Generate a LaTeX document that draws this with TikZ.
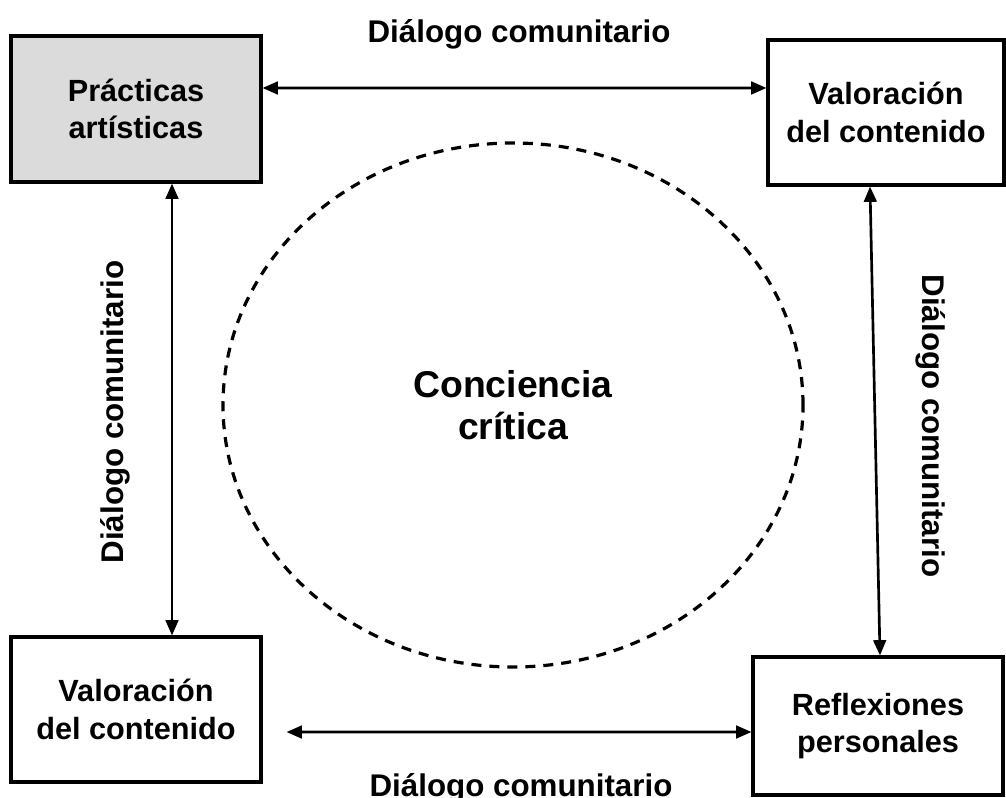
\documentclass[tikz,border=0pt]{standalone}
\usepackage{fontspec}
\setmainfont{Liberation Sans}
\usetikzlibrary{positioning, arrows.meta, shapes.geometric}

\begin{document}
\begin{tikzpicture}[
    x=0.75pt, y=-0.75pt,
    box/.style={draw, line width=2.3pt, align=center, font=\fontsize{23}{28}\selectfont\bfseries},
    gray-box/.style={box, fill=black!14},
    dlg-arr/.style={{Triangle[length=11.5pt,width=9.5pt]}-{Triangle[length=11.5pt,width=9.5pt]}, line width=2pt},
    dlg-lbl/.style={font=\fontsize{23.5}{28}\selectfont\bfseries, inner sep=0pt, anchor=base}
  ]
  \useasboundingbox (0,0) rectangle (1006,798);

    \node[gray-box, minimum width=187.5pt, minimum height=109.5pt] (PA) at (136,109) {Prácticas\\artísticas};
    \node[box, minimum width=177pt, minimum height=108.75pt] (VC1) at (886,112.5) {Valoración\\del contenido};
    \node[box, minimum width=187.5pt, minimum height=108.75pt] (VC2) at (136,709.5) {Valoración\\del contenido};
    \node[box, minimum width=187.5pt, minimum height=103.5pt] (RP) at (878,726) {Reflexiones\\personales};

    \node[draw, ellipse, line width=2.4pt, dash pattern=on 7.5pt off 6pt, minimum width=435pt, minimum height=393pt,
      align=center, font=\fontsize{28}{31.5}\selectfont\bfseries] (CC) at (513,405) {Conciencia\\crítica};

  % dialogo comunitario
    \draw[dlg-arr] ([yshift=15.75pt]PA.east) -- ([yshift=18.4pt]VC1.west);
    \draw[dlg-arr] ([xshift=27pt]PA.south) -- ([xshift=27pt]VC2.north);
    \draw[dlg-arr] ([xshift=-12pt]VC1.south) -- ([xshift=1.5pt]RP.north);
    \draw[dlg-arr, shorten <=18pt] ([yshift=-16.9pt]VC2.east) -- ([yshift=-4.5pt]RP.west);

    \node[dlg-lbl] (top-lbl) at (519,43) {Diálogo comunitario};
    \node[dlg-lbl] (bot-lbl) at (521,796) {Diálogo comunitario};
    \node[dlg-lbl, rotate=90] (left-lbl) at (123,412) {Diálogo comunitario};
    \node[dlg-lbl, rotate=-90] (right-lbl) at (922,426) {Diálogo comunitario};

\end{tikzpicture}
\end{document}
